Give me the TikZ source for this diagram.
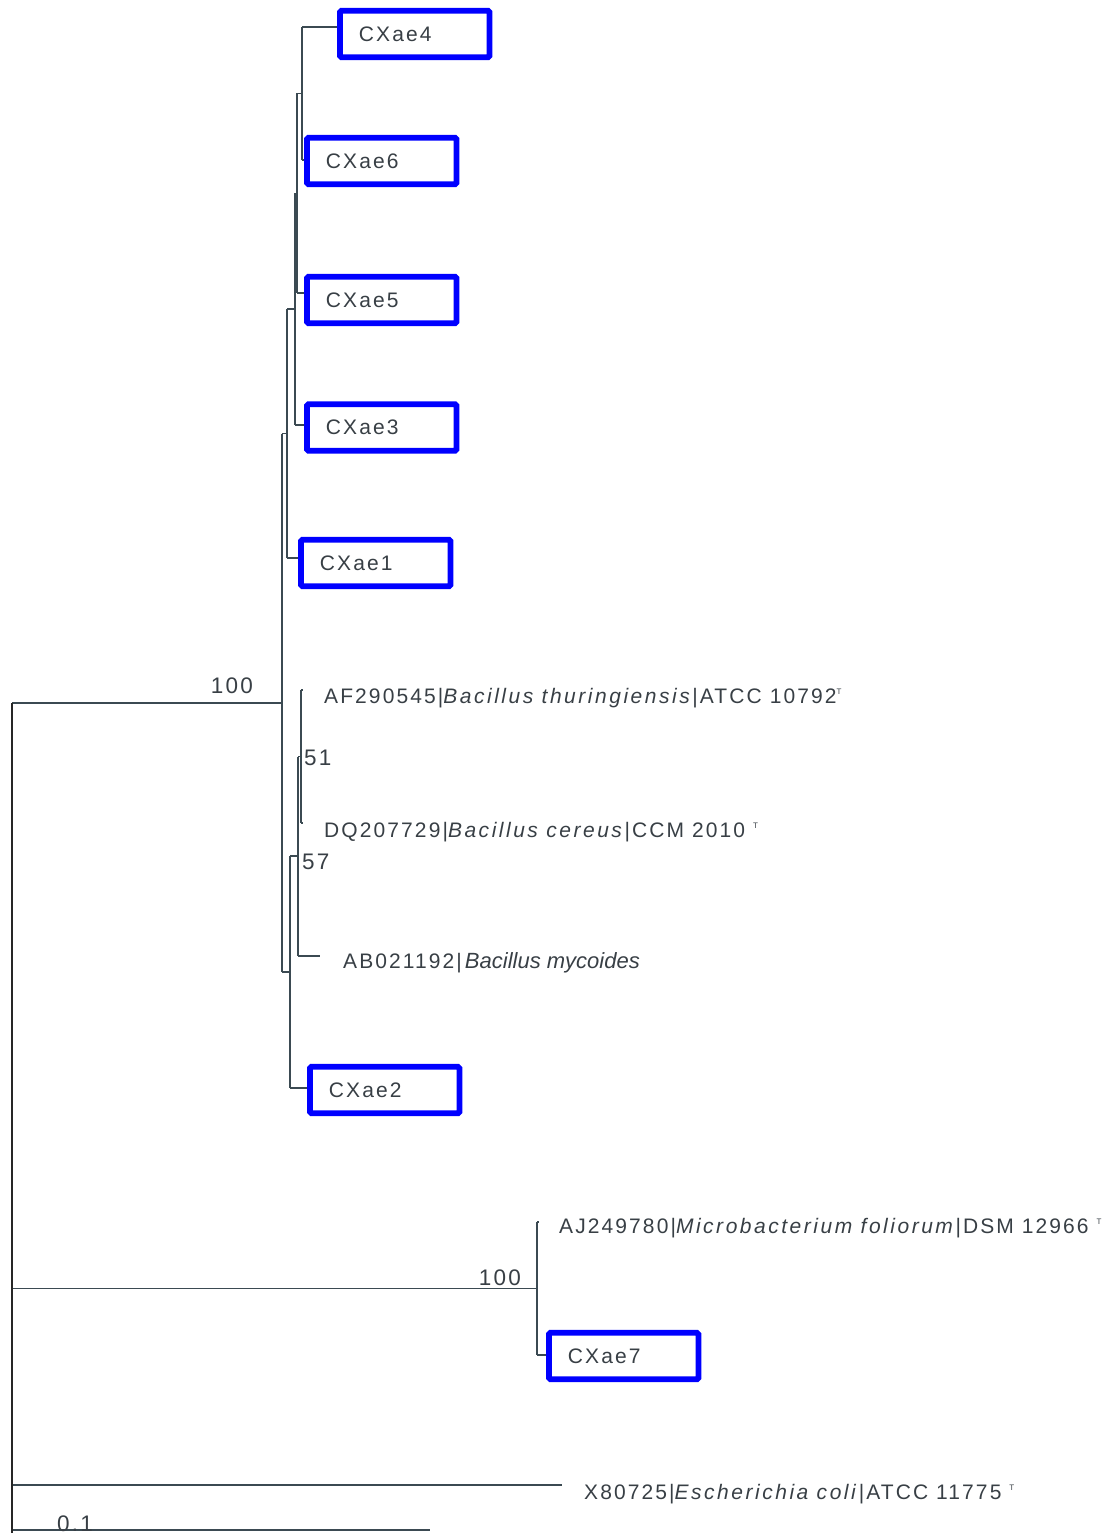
\documentclass[tikz,border=0pt]{standalone}
\usepackage{fontspec}
\setmainfont{Liberation Sans}
\newfontfamily\lsf{Liberation Sans}[LetterSpace=10, ItalicFeatures={LetterSpace=12}]
\newfontfamily\plf{Liberation Sans}
\definecolor{ln}{HTML}{3B4A52}
\definecolor{tx}{HTML}{383F45}
\newcommand\supT{\raisebox{9pt}{\fontsize{8}{8}\selectfont T}}
\begin{document}
\begin{tikzpicture}[x=1pt,y=-1pt,
  br/.style={draw=ln,line width=1.4pt},
  rootln/.style={draw=black!85,line width=2.2pt},
  box/.style={draw=blue,fill=white,line width=5.8pt,rounded corners=1.5pt,
    minimum width=149.5pt,minimum height=46.5pt,inner xsep=19pt,inner ysep=0pt,
    outer sep=0pt,text width=111.5pt,align=left,anchor=west,
    font=\lsf\fontsize{21}{21}\selectfont,text=tx},
  lab/.style={anchor=base west,inner sep=0pt,font=\lsf\fontsize{21}{21}\selectfont,text=tx},
  bs/.style={inner sep=0pt,font=\lsf\fontsize{22.5}{22.5}\selectfont,text=tx}]
\useasboundingbox (0,0) rectangle (1113,1533);
% internal nodes
\coordinate (R)  at (12,703);
\coordinate (Rb) at (12,1533);
\coordinate (A) at (302,93.5);
\coordinate (B) at (297,193.5);
\coordinate (C) at (295,309);
\coordinate (D) at (287,433.5);
\coordinate (E) at (282,703);
\coordinate (F) at (290,972);
\coordinate (G) at (298,856);
\coordinate (H) at (301,756.5);
\coordinate (M) at (537,1288.5);
% leaf tips
\coordinate (l4) at (337,27);
\coordinate (l6) at (304,160);
\coordinate (l5) at (304,293);
\coordinate (l3) at (304,425);
\coordinate (l1) at (298,558);
\coordinate (lAF) at (303,690);
\coordinate (lDQ) at (303,823);
\coordinate (lAB) at (320,956);
\coordinate (l2) at (307,1088);
\coordinate (lAJ) at (539,1222);
\coordinate (l7) at (546,1355);
\coordinate (lX) at (562,1485);
\coordinate (s0) at (12,1530);
\coordinate (s1) at (430,1530);
% branches
\draw[br] (A |- l4) -- (l4) (A |- l6) -- (l6) (A |- l4) -- (A |- l6);
\draw[br] (B |- A) -- (A) (B |- l5) -- (l5) (B |- A) -- (B |- l5);
\draw[br] (C |- B) -- (B) (C |- l3) -- (l3) (C |- B) -- (C |- l3);
\draw[br] (D |- C) -- (C) (D |- l1) -- (l1) (D |- C) -- (D |- l1);
\draw[br] (H |- lAF) -- (lAF) (H |- lDQ) -- (lDQ) (H |- lAF) -- (H |- lDQ);
\draw[br] (G |- H) -- (H) (G |- lAB) -- (lAB) (G |- H) -- (G |- lAB);
\draw[br] (F |- G) -- (G) (F |- l2) -- (l2) (F |- G) -- (F |- l2);
\draw[br] (E |- D) -- (D) (E |- F) -- (F) (E |- D) -- (E |- F);
\draw[br] (M |- lAJ) -- (lAJ) (M |- l7) -- (l7) (M |- lAJ) -- (M |- l7);
\draw[br] (R |- E) -- (E) (R |- M) -- (M) (R |- lX) -- (lX);
\draw[br] (s0) -- (s1);
\draw[rootln] (R) -- (Rb);
% boxed leaves (anchor at centre of left border line)
\node[box] (b4) at (339.9,34) {CXae4};
\node[box] (b6) at (306.9,161) {CXae6};
\node[box] (b5) at (306.9,300) {CXae5};
\node[box] (b3) at (306.9,427.5) {CXae3};
\node[box] (b1) at (300.9,563) {CXae1};
\node[box] (b2) at (309.9,1090) {CXae2};
\node[box] (b7) at (548.9,1356) {CXae7};
% text leaves
\node[lab] (tAF) at (324,703) {AF290545|\textit{Bacillus thuringiensis}|ATCC 10792\supT};
\node[lab] (tDQ) at (324,837) {DQ207729|\textit{Bacillus cereus}|CCM 2010 \supT};
\node[lab] (tAB) at (343,968) {AB021192|\hspace{3pt}{\plf\itshape\fontsize{22}{22}\selectfont Bacillus mycoides}};
\node[lab] (tAJ) at (559,1233) {AJ249780|\textit{Microbacterium foliorum}|DSM 12966 \supT};
\node[lab] (tX) at (584,1499) {X80725|\textit{Escherichia coli}|ATCC 11775 \supT};
% bootstrap values
\node[bs,anchor=base east] (v1) at (253,693) {100};
\node[bs,anchor=base east] (v2) at (521,1285) {100};
\node[bs,anchor=base west] (v3) at (304,765) {51};
\node[bs,anchor=base west] (v4) at (302,869) {57};
\node[bs,anchor=base] (sc) at (75,1531) {0.1};
\end{tikzpicture}
\end{document}
